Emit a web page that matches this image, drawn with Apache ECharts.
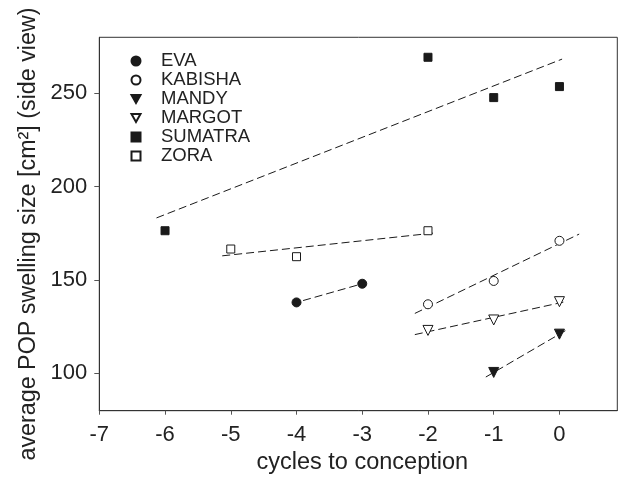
<!DOCTYPE html>
<html>
<head>
<meta charset="utf-8">
<script src="https://cdn.jsdelivr.net/npm/echarts@6/dist/echarts.min.js"></script>
<style>
html,body{margin:0;padding:0;background:#fff;}
#chart{width:619px;height:477px;}
</style>
</head>
<body>
<div id="chart"></div>
<script>
// ---- data ----
const names = ['EVA', 'KABISHA', 'MANDY', 'MARGOT', 'SUMATRA', 'ZORA'];
const evaX = [-4, -3];
const evaY = [138, 148];
const kabishaX = [-2, -1, 0];
const kabishaY = [137, 149.5, 171];
const mandyX = [-1, 0];
const mandyY = [100.5, 121];
const margotX = [-2, -1, 0];
const margotY = [123, 128.6, 138.4];
const sumatraX = [-6, -2, -1, 0];
const sumatraY = [176.4, 269.3, 247.7, 253.6];
const zoraX = [-5, -4, -2];
const zoraY = [166.6, 162.5, 176.4];
// x-extent of each fitted regression line
const evaFitRange = [-3.9, -3.0];
const kabishaFitRange = [-2.2, 0.3];
const mandyFitRange = [-1.12, 0.09];
const margotFitRange = [-2.2, 0.08];
const sumatraFitRange = [-6.13, 0.04];
const zoraFitRange = [-5.13, -1.88];
const xTicks = [-7, -6, -5, -4, -3, -2, -1, 0];
const yTicks = [100, 150, 200, 250];

// ---- helpers ----
function linFit(xs, ys) {
  const n = xs.length;
  const mx = xs.reduce((a, b) => a + b, 0) / n;
  const my = ys.reduce((a, b) => a + b, 0) / n;
  let sxy = 0, sxx = 0;
  for (let i = 0; i < n; i++) { sxy += (xs[i] - mx) * (ys[i] - my); sxx += (xs[i] - mx) * (xs[i] - mx); }
  const b = sxy / sxx;
  return x => my + b * (x - mx);
}
function fitLine(xs, ys, range) {
  const f = linFit(xs, ys);
  return range.map(x => [x, f(x)]);
}
function pts(xs, ys) { return xs.map((x, i) => [x, ys[i]]); }

const triDown = 'path://M0,0 L10,0 L5,9 Z';
const ink = '#1a1a1a';
const groups = [
  { name: 'EVA', xs: evaX, ys: evaY, range: evaFitRange, symbol: 'circle', size: 9, fill: ink },
  { name: 'KABISHA', xs: kabishaX, ys: kabishaY, range: kabishaFitRange, symbol: 'circle', size: 9, fill: '#fff' },
  { name: 'MANDY', xs: mandyX, ys: mandyY, range: mandyFitRange, symbol: triDown, size: 10, fill: ink },
  { name: 'MARGOT', xs: margotX, ys: margotY, range: margotFitRange, symbol: triDown, size: 10, fill: '#fff' },
  { name: 'SUMATRA', xs: sumatraX, ys: sumatraY, range: sumatraFitRange, symbol: 'rect', size: 8, fill: ink },
  { name: 'ZORA', xs: zoraX, ys: zoraY, range: zoraFitRange, symbol: 'rect', size: 8, fill: '#fff' }
];

const series = [];
groups.forEach(g => {
  series.push({
    name: g.name + ' fit', type: 'line', data: fitLine(g.xs, g.ys, g.range),
    showSymbol: false, symbol: 'none', silent: true, z: 1,
    lineStyle: { color: ink, width: 1, type: [8, 4] }
  });
});
groups.forEach(g => {
  series.push({
    name: g.name, type: 'scatter', data: pts(g.xs, g.ys),
    symbol: g.symbol, symbolSize: g.size, z: 3,
    itemStyle: { color: g.fill, borderColor: ink, borderWidth: 1, opacity: 1 }
  });
});

const chart = echarts.init(document.getElementById('chart'), null, { renderer: 'canvas' });
chart.setOption({
  animation: false,
  backgroundColor: '#fff',
  textStyle: { fontFamily: 'Liberation Sans, Arial, sans-serif', color: '#222' },
  grid: {
    left: 99.3, right: 1.7, top: 37.3, bottom: 66.3,
    containLabel: false, outerBoundsMode: 'none',
    show: true, borderColor: '#333', borderWidth: 1, backgroundColor: 'transparent'
  },
  legend: {
    data: names, orient: 'vertical', left: 125.5, top: 46.5,
    itemWidth: 9, itemHeight: 9, itemGap: 0,
    textStyle: { fontSize: 18.5, color: '#222', lineHeight: 18.5, padding: [0, 0, 0, 15.5] },
    selectedMode: false
  },
  xAxis: {
    type: 'value', min: -7, max: 0.88,
    name: 'cycles to conception', nameLocation: 'middle', nameGap: 38,
    nameTextStyle: { fontSize: 23.5, color: '#222', padding: [0, 0, 0, 8] },
    axisLine: { show: true, onZero: false, lineStyle: { color: '#333', width: 1 } },
    axisTick: { show: true, length: 4, inside: false, customValues: xTicks, lineStyle: { color: '#555' } },
    axisLabel: { fontSize: 22, color: '#222', margin: 13, customValues: xTicks },
    splitLine: { show: false }
  },
  yAxis: {
    type: 'value', min: 80, max: 280,
    name: 'average POP swelling size [cm²] (side view)', nameLocation: 'middle', nameGap: 52, nameRotate: 90,
    nameTextStyle: { fontSize: 23.3, color: '#222', padding: [0, 20, 0, 0] },
    axisLine: { show: true, onZero: false, lineStyle: { color: '#333', width: 1 } },
    axisTick: { show: true, length: 5, inside: false, customValues: yTicks, lineStyle: { color: '#555' } },
    axisLabel: { fontSize: 22, color: '#222', margin: 12, customValues: yTicks },
    splitLine: { show: false }
  },
  series: series
});
</script>
</body>
</html>
